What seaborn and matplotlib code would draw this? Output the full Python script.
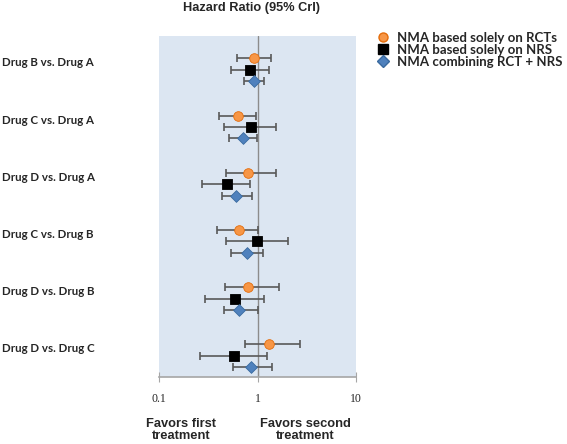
import numpy as np
import pandas as pd
import matplotlib
matplotlib.use("Agg")
import matplotlib.pyplot as plt
import seaborn as sns
from matplotlib.lines import Line2D

# comparisons, top to bottom
comparisons = ["Drug B vs. Drug A", "Drug C vs. Drug A", "Drug D vs. Drug A",
               "Drug C vs. Drug B", "Drug D vs. Drug B", "Drug D vs. Drug C"]
methods = ["NMA based solely on RCTs", "NMA based solely on NRS",
           "NMA combining RCT + NRS"]

# hazard ratios and 95% CrI
hr_rct = [0.91, 0.63, 0.80, 0.64, 0.80, 1.29]
lo_rct = [0.61, 0.40, 0.48, 0.39, 0.46, 0.74]
hi_rct = [1.36, 0.96, 1.54, 1.01, 1.64, 2.71]

hr_nrs = [0.83, 0.86, 0.49, 0.98, 0.59, 0.58]
lo_nrs = [0.53, 0.45, 0.27, 0.48, 0.29, 0.26]
hi_nrs = [1.31, 1.53, 0.84, 2.04, 1.17, 1.25]

hr_comb = [0.92, 0.71, 0.60, 0.78, 0.65, 0.86]
lo_comb = [0.72, 0.51, 0.43, 0.53, 0.45, 0.56]
hi_comb = [1.15, 0.99, 0.88, 1.13, 1.01, 1.40]

rows = []
for m_i, (m, hr, lo, hi) in enumerate(zip(methods,
                                          [hr_rct, hr_nrs, hr_comb],
                                          [lo_rct, lo_nrs, lo_comb],
                                          [hi_rct, hi_nrs, hi_comb])):
    for c_i, c in enumerate(comparisons):
        rows.append({"comparison": c, "method": m, "hr": hr[c_i],
                     "lo": lo[c_i], "hi": hi[c_i],
                     "pos": c_i + (m_i - 1) * 0.2})
df = pd.DataFrame(rows)

colors = {methods[0]: "#F79646", methods[1]: "#000000", methods[2]: "#4F81BD"}
markers = {methods[0]: "o", methods[1]: "s", methods[2]: "D"}
edges = {methods[0]: "#E46C0A", methods[1]: "#000000", methods[2]: "#3A6A9F"}
sizes = {methods[0]: 48, methods[1]: 48, methods[2]: 36}

sns.set_style("white")
plt.rcParams["font.family"] = ["DejaVu Sans"]

fig = plt.figure(figsize=(5.67, 4.44), dpi=100)
ax = fig.add_axes([0.281, 0.151, 0.347, 0.769])
ax.set_facecolor("#DCE6F2")

# error bars
for m in methods:
    sub = df[df["method"] == m]
    ax.errorbar(sub["hr"], sub["pos"],
                xerr=[sub["hr"] - sub["lo"], sub["hi"] - sub["hr"]],
                fmt="none", ecolor="#595959", elinewidth=1.2,
                capsize=3.2, capthick=1.2, zorder=2)

ax.axvline(1, color="#8C8C8C", lw=1, zorder=1)

for m in methods:
    sub = df[df["method"] == m]
    sns.scatterplot(data=sub, x="hr", y="pos", marker=markers[m],
                    color=colors[m], edgecolor=edges[m], linewidth=0.6,
                    s=sizes[m], ax=ax, zorder=3, legend=False)

ax.set_xscale("log")
ax.set_xlim(0.1, 10)
ax.set_ylim(5.37, -0.6)
ax.set_xticks([0.1, 1, 10])
ax.set_xticklabels(["0.1", "1", "10"], family="Liberation Serif", fontsize=8.5)
ax.xaxis.set_minor_locator(matplotlib.ticker.NullLocator())
ax.tick_params(axis="x", direction="inout", length=7, color="#A6A6A6",
               pad=8, bottom=True)
ax.set_yticks([])
ax.set_xlabel("")
ax.set_ylabel("")
for s in ["top", "left", "right"]:
    ax.spines[s].set_visible(False)
ax.spines["bottom"].set_color("#A6A6A6")
ax.spines["bottom"].set_linewidth(1.2)

# row labels on the left
trans = matplotlib.transforms.blended_transform_factory(fig.transFigure, ax.transData)
for i, c in enumerate(comparisons):
    ax.text(0.004, i - 0.12, c, transform=trans, ha="left", va="center",
            family="Lato", fontweight="bold", fontsize=8.3)

fig.text(0.444, 0.982, "Hazard Ratio (95% CrI)", ha="center", va="center",
         family="Liberation Sans", fontweight="bold", fontsize=9.2)
fig.text(0.319, 0.031, "Favors first\ntreatment", ha="center", va="center",
         family="Liberation Sans", fontweight="bold", fontsize=9.3,
         linespacing=1.0)
fig.text(0.538, 0.031, "Favors second\ntreatment", ha="center", va="center",
         family="Liberation Sans", fontweight="bold", fontsize=9.3,
         linespacing=1.0)

handles = [Line2D([], [], ls="none", marker=markers[m], color=colors[m],
                  markeredgecolor=edges[m], markersize=6.5) for m in methods]
leg = fig.legend(handles, methods, loc="upper left",
                 bbox_to_anchor=(0.661, 0.929), frameon=False,
                 borderpad=0, borderaxespad=0,
                 handletextpad=0.5, labelspacing=0.0, handlelength=1.2,
                 prop={"family": "Lato", "weight": "bold", "size": 9.5})

fig.savefig("out.png", dpi=100)
